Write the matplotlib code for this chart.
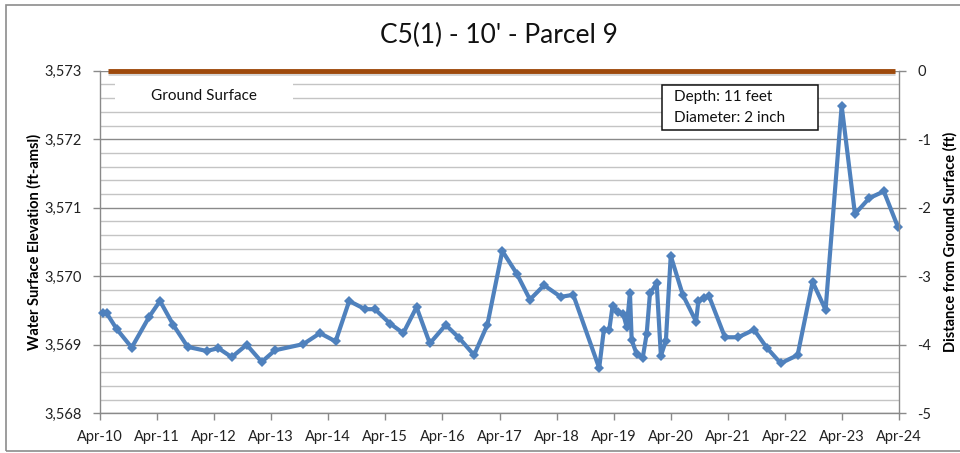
import matplotlib
matplotlib.use("Agg")
import matplotlib.pyplot as plt
import matplotlib.dates as mdates
import matplotlib.patheffects as pe
from matplotlib.ticker import MultipleLocator, FuncFormatter, FixedLocator
from matplotlib.patches import Rectangle
import pandas as pd

plt.rcParams['font.family'] = ['Lato', 'DejaVu Sans']

# ---------------- data ----------------
dates = ['2010-04-18', '2010-05-14', '2010-07-17', '2010-10-21', '2011-02-10',
         '2011-04-20', '2011-07-14', '2011-10-14', '2012-02-12', '2012-04-28',
         '2012-07-22', '2012-10-26', '2013-01-30', '2013-04-25', '2013-10-23',
         '2014-02-07', '2014-05-18', '2014-08-13', '2014-11-22', '2015-01-25',
         '2015-05-01', '2015-07-25', '2015-10-18', '2016-01-11', '2016-04-22',
         '2016-07-17', '2016-10-20', '2017-01-13', '2017-04-19', '2017-07-20',
         '2017-10-13', '2018-01-11', '2018-04-28', '2018-07-17', '2018-12-30',
         '2019-01-29', '2019-03-04', '2019-03-26', '2019-05-01', '2019-06-02',
         '2019-06-24', '2019-07-15', '2019-07-26', '2019-08-26', '2019-10-04',
         '2019-10-30', '2019-11-20', '2020-01-02', '2020-01-29', '2020-03-01',
         '2020-04-01', '2020-06-17', '2020-09-10', '2020-09-25', '2020-10-31',
         '2020-12-02', '2021-03-14', '2021-06-07', '2021-09-16', '2021-12-06',
         '2022-03-06', '2022-06-22', '2022-09-26', '2022-12-18', '2023-03-31',
         '2023-06-24', '2023-09-23', '2023-12-26', '2024-03-25']
elevation = [3569.47, 3569.46, 3569.23, 3568.96, 3569.41, 3569.64, 3569.29, 3568.97, 3568.91, 3568.95,
             3568.82, 3569.00, 3568.75, 3568.92, 3569.01, 3569.17, 3569.05, 3569.64, 3569.52, 3569.52,
             3569.31, 3569.17, 3569.55, 3569.02, 3569.29, 3569.10, 3568.85, 3569.29, 3570.37, 3570.04,
             3569.66, 3569.87, 3569.70, 3569.73, 3568.66, 3569.22, 3569.21, 3569.57, 3569.48, 3569.45,
             3569.26, 3569.76, 3569.07, 3568.87, 3568.80, 3569.16, 3569.75, 3569.90, 3568.84, 3569.06,
             3570.30, 3569.73, 3569.34, 3569.64, 3569.68, 3569.71, 3569.11, 3569.11, 3569.22, 3568.96,
             3568.73, 3568.85, 3569.92, 3569.51, 3572.49, 3570.91, 3571.14, 3571.24, 3570.72]
ground_dates = ['2010-05-22', '2024-03-05']
ground_elev = [3573, 3573]
tick_dates = ['2010-04-01', '2011-04-01', '2012-04-01', '2013-04-01', '2014-04-01',
              '2015-04-01', '2016-04-01', '2017-04-01', '2018-04-01', '2019-04-01',
              '2020-04-01', '2021-04-01', '2022-04-01', '2023-04-01', '2024-04-01']
tick_labels = ['Apr-10', 'Apr-11', 'Apr-12', 'Apr-13', 'Apr-14', 'Apr-15', 'Apr-16',
               'Apr-17', 'Apr-18', 'Apr-19', 'Apr-20', 'Apr-21', 'Apr-22', 'Apr-23', 'Apr-24']
right_ticks = [0, -1, -2, -3, -4, -5]

title = "C5(1) - 10' - Parcel 9"
left_label = "Water Surface Elevation (ft-amsl)"
right_label = "Distance from Ground Surface (ft)"

# ---------------- figure ----------------
W, H = 960, 453
fig = plt.figure(figsize=(W / 100, H / 100), dpi=100)
fig.patch.set_facecolor('white')
fig.add_artist(Rectangle((6 / W, 1 - 451 / H), (W + 5 - 6) / W, (451 - 5) / H,
                         transform=fig.transFigure, fill=False,
                         edgecolor='#8c8c8c', linewidth=1.2))

x0, x1, ytop, ybot = 100, 899, 70.8, 413.3
ax = fig.add_axes([x0 / W, 1 - ybot / H, (x1 - x0) / W, (ybot - ytop) / H])

d = pd.to_datetime(dates)
gd = pd.to_datetime(ground_dates)
td = pd.to_datetime(tick_dates)

ax.set_xlim(mdates.date2num(td[0]), mdates.date2num(td[-1]))
ax.set_ylim(3568, 3573)

ax.yaxis.set_major_locator(MultipleLocator(1))
ax.yaxis.set_minor_locator(MultipleLocator(0.2))
ax.yaxis.set_major_formatter(FuncFormatter(lambda v, p: f"{v:,.0f}"))
ax.xaxis.set_major_locator(FixedLocator(mdates.date2num(td)))
ax.set_xticklabels(tick_labels)

ax.grid(axis='y', which='major', color='#8a8a8a', linewidth=1.0, zorder=0)
ax.grid(axis='y', which='minor', color='#c4c4c4', linewidth=1.0, zorder=0)
ax.set_axisbelow(True)

for s in ['top', 'right']:
    ax.spines[s].set_visible(False)
for s in ['left', 'bottom']:
    ax.spines[s].set_color('#8a8a8a')
    ax.spines[s].set_linewidth(1.0)

ax.tick_params(axis='both', which='major', direction='out', length=5, width=1,
               color='#8a8a8a', labelsize=10.5, labelcolor='#222222')
ax.tick_params(axis='y', which='minor', length=0)
ax.tick_params(axis='x', pad=7)
ax.tick_params(axis='y', pad=8)

# ground surface line
ax.plot(gd, ground_elev, color='#9e4a0c', linewidth=3.5, solid_capstyle='butt', zorder=5,
        clip_on=False,
        path_effects=[pe.SimpleLineShadow(offset=(0, -1.5), shadow_color='#888888', alpha=0.35),
                      pe.Normal()])

# data line
ax.plot(d, elevation, color='#4f81bd', linewidth=3.0, marker='D', markersize=5.5,
        markeredgewidth=0, zorder=6, clip_on=False)

# Ground surface label box
ax.add_patch(Rectangle(((115 - x0) / (x1 - x0), (ybot - 106) / (ybot - ytop)),
                       (293 - 115) / (x1 - x0), (106 - 80) / (ybot - ytop),
                       transform=ax.transAxes, facecolor='white', edgecolor='none', zorder=2))
ax.text((204 - x0) / (x1 - x0), (ybot - 96) / (ybot - ytop), 'Ground Surface',
        transform=ax.transAxes, ha='center', va='center', fontsize=11, color='#111111', zorder=3)

# Depth box
ax.add_patch(Rectangle(((661.7 - x0) / (x1 - x0), (ybot - 130) / (ybot - ytop)),
                       (818 - 661.7) / (x1 - x0), (130 - 85) / (ybot - ytop),
                       transform=ax.transAxes, facecolor='white', edgecolor='#111111',
                       linewidth=1.1, zorder=7))
ax.text((674 - x0) / (x1 - x0), (ybot - 97.5) / (ybot - ytop), 'Depth: 11 feet',
        transform=ax.transAxes, ha='left', va='center', fontsize=11, color='#111111', zorder=8)
ax.text((674 - x0) / (x1 - x0), (ybot - 118) / (ybot - ytop), 'Diameter: 2 inch',
        transform=ax.transAxes, ha='left', va='center', fontsize=11, color='#111111', zorder=8)

ax.set_ylabel(left_label, fontsize=10.5, fontweight='bold', labelpad=2)

# secondary axis
ax2 = ax.twinx()
ax2.set_ylim(-5, 0)
ax2.set_yticks(right_ticks)
ax2.set_yticklabels([str(t) for t in right_ticks])
for s in ['top', 'left', 'bottom']:
    ax2.spines[s].set_visible(False)
ax2.spines['right'].set_color('#8a8a8a')
ax2.spines['right'].set_linewidth(1.0)
ax2.tick_params(axis='y', direction='out', length=5, width=1, color='#8a8a8a',
                labelsize=10.5, labelcolor='#222222', pad=8)
ax2.set_ylabel(right_label, fontsize=10.5, fontweight='bold', labelpad=9)

fig.text(499 / W, 1 - 35 / H, title, ha='center', va='center', fontsize=19, color='#111111')

fig.savefig('out.png', dpi=100, facecolor='white')
